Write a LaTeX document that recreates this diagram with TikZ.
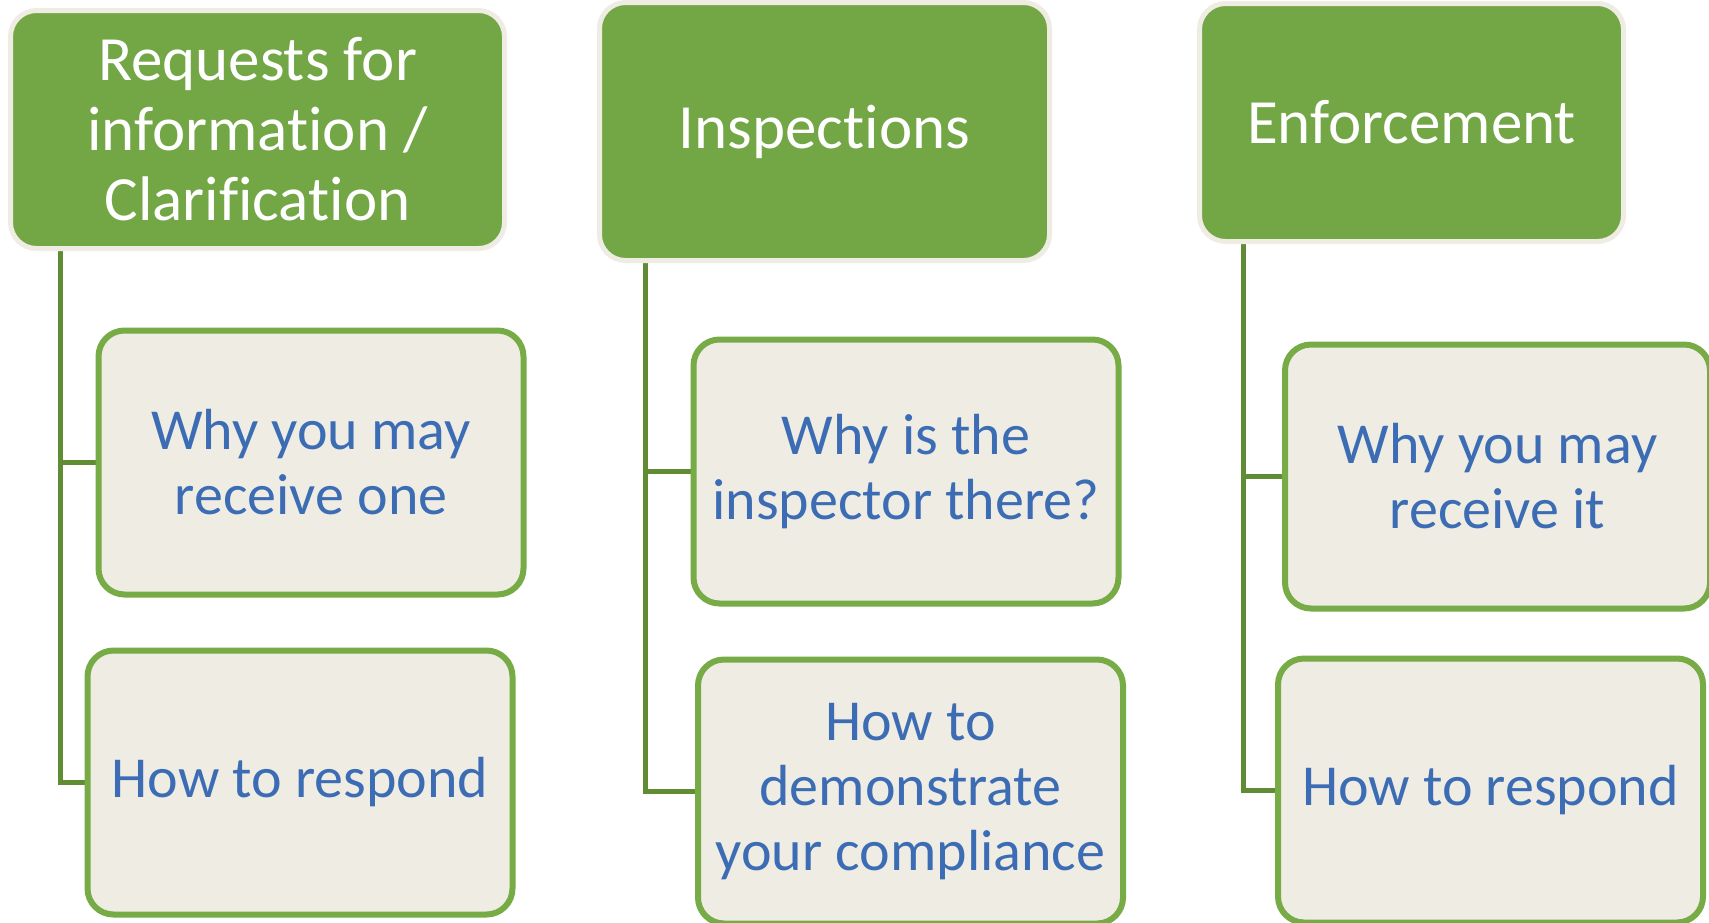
\documentclass[tikz,border=0pt]{standalone}
\usepackage{fontspec}
\setmainfont{Carlito}[Ligatures=NoCommon]
\usetikzlibrary{backgrounds}

\definecolor{headgreen}{HTML}{73A746}
\definecolor{paper}{HTML}{EFECE4}
\definecolor{leafline}{HTML}{77AB46}
\definecolor{linkgreen}{HTML}{608C34}
\definecolor{leaftext}{HTML}{3B6CB4}

\begin{document}
\begin{tikzpicture}[x=1pt,y=-1pt,node distance=320pt,
	head/.style={draw=paper,line width=5pt,fill=headgreen,rounded corners=26pt,minimum width=494pt,minimum height=238pt,inner sep=0pt,text=white,align=center,font=\fontsize{63}{70}\selectfont},
	leaf/.style={draw=leafline,line width=6pt,fill=paper,rounded corners=26pt,minimum width=425pt,minimum height=264pt,inner sep=0pt,text=leaftext,align=center,font=\fontsize{58}{65}\selectfont},
	link/.style={draw=linkgreen,line width=5pt}]
	\useasboundingbox (0,0) rectangle (1709,922);
	% top row
	\node[head] (R) at (257.5,129.5) {Requests for\\information /\\Clarification};
	\node[head,minimum width=450pt,minimum height=258pt] (I) at (824.5,131.5) {Inspections};
	\node[head,minimum width=424pt] (E) at (1411.5,122.5) {Enforcement};
	% second level
	\node[leaf] (Rwhy) at (311,462.5) {Why you may\\receive one};
	\node[leaf] (Rhow) [below of=Rwhy,xshift=-11pt] {How to respond};
	\node[leaf] (Iwhy) at (906,471.5) {Why is the\\inspector there?};
	\node[leaf] (Ihow) [below of=Iwhy,xshift=4.5pt] {How to\\demonstrate\\your compliance};
	\node[leaf] (Ewhy) at (1497.5,476.5) {Why you may\\receive it};
	\node[leaf] (Ehow) [below of=Ewhy,xshift=-7pt,yshift=6pt] {How to respond};
	% connectors
	\begin{scope}[on background layer]
		\draw[link] ([xshift=52.5pt]R.south west) |- (Rwhy.west);
		\draw[link] ([xshift=52.5pt]R.south west) |- (Rhow.west);
		\draw[link] ([xshift=48pt]I.south west) |- (Iwhy.west);
		\draw[link] ([xshift=48pt]I.south west) |- (Ihow.west);
		\draw[link] ([xshift=46pt]E.south west) |- (Ewhy.west);
		\draw[link] ([xshift=46pt]E.south west) |- (Ehow.west);
	\end{scope}
\end{tikzpicture}
\end{document}
